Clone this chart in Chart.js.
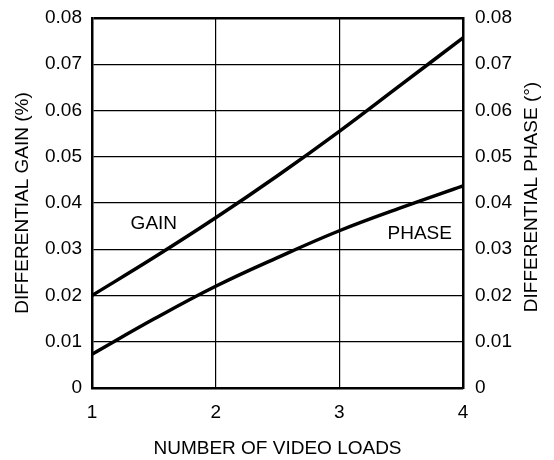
<!DOCTYPE html>
<html>
<head>
<meta charset="utf-8">
<script src="https://cdn.jsdelivr.net/npm/chart.js@4/dist/chart.umd.min.js"></script>
<style>
  html, body { margin: 0; padding: 0; background: #fff; }
  #wrap { width: 554px; height: 460px; }
</style>
</head>
<body>
<div id="wrap"><canvas id="chart"></canvas></div>
<script>
// Differential gain / phase vs number of video loads

const loads = [1, 1.5, 2, 2.5, 3, 3.5, 4];
const gainValues = [0.0200, 0.0282, 0.0368, 0.0459, 0.0555, 0.0656, 0.0757];
const phaseValues = [0.0073, 0.0149, 0.0220, 0.0282, 0.0340, 0.0390, 0.0437];

const xTicks = [1, 2, 3, 4];
const yTicks = [0, 0.01, 0.02, 0.03, 0.04, 0.05, 0.06, 0.07, 0.08];

// curve labels, placed in data coordinates
const curveLabels = [
  { text: 'GAIN', x: 1.5, y: 0.0356 },
  { text: 'PHASE', x: 3.65, y: 0.0333 }
];

const FONT = "'Liberation Sans', Arial, Helvetica, sans-serif";
const SIZE = 19;

function toPoints(xs, ys) {
  return xs.map((x, i) => ({ x: x, y: ys[i] }));
}

function yLabel(value) {
  return value === 0 ? '0' : value.toFixed(2);
}

// fixed width for a y axis, and no extra room for the end labels
function fitY(width) {
  return axis => {
    axis.width = width;
    axis.paddingTop = 0;
    axis.paddingBottom = 0;
  };
}

// draws the curve labels and the right-hand axis title (reads bottom to top)
const textPlugin = {
  id: 'textPlugin',
  afterDraw(chart) {
    const ctx = chart.ctx;
    const xs = chart.scales.x;
    const ys = chart.scales.y;
    ctx.save();
    ctx.fillStyle = '#000';
    ctx.font = SIZE + 'px ' + FONT;
    ctx.textAlign = 'center';
    ctx.textBaseline = 'middle';
    curveLabels.forEach(l => {
      ctx.fillText(l.text, xs.getPixelForValue(l.x), ys.getPixelForValue(l.y));
    });

    const area = chart.chartArea;
    ctx.translate(532, (area.top + area.bottom) / 2 - 6);
    ctx.rotate(-Math.PI / 2);
    ctx.fillText('DIFFERENTIAL PHASE (°)', 0, 0);
    ctx.restore();
  }
};

const ctx = document.getElementById('chart').getContext('2d');
const chart = new Chart(ctx, {
  type: 'line',
  data: {
    datasets: [
      {
        label: 'GAIN',
        data: toPoints(loads, gainValues),
        borderColor: '#000',
        borderWidth: 3.5,
        pointRadius: 0,
        tension: 0.4,
        fill: false
      },
      {
        label: 'PHASE',
        data: toPoints(loads, phaseValues),
        borderColor: '#000',
        borderWidth: 3.5,
        pointRadius: 0,
        tension: 0.4,
        fill: false
      }
    ]
  },
  options: {
    responsive: true,
    maintainAspectRatio: false,
    animation: false,
    layout: { padding: { top: 18, left: 0, right: 0, bottom: 0 } },
    plugins: {
      legend: { display: false },
      tooltip: { enabled: false }
    },
    scales: {
      x: {
        type: 'linear',
        min: 1,
        max: 4,
        afterBuildTicks: axis => { axis.ticks = xTicks.map(v => ({ value: v })); },
        afterFit: axis => { axis.height = 72; },
        grid: { color: '#000', lineWidth: 1.2, drawTicks: false },
        border: { color: '#000', width: 2.5 },
        ticks: {
          color: '#000',
          padding: 13,
          maxRotation: 0,
          font: { family: FONT, size: SIZE }
        },
        title: {
          display: true,
          text: 'NUMBER OF VIDEO LOADS',
          color: '#000',
          padding: { top: 0, bottom: 0 },
          font: { family: FONT, size: SIZE }
        }
      },
      y: {
        position: 'left',
        min: 0,
        max: 0.08,
        afterBuildTicks: axis => { axis.ticks = yTicks.map(v => ({ value: v })); },
        afterFit: fitY(92),
        grid: {
          color: '#000',
          lineWidth: c => (c.tick && c.tick.value === 0.08 ? 2.5 : 1.2),
          drawTicks: false
        },
        border: { color: '#000', width: 2.5 },
        ticks: {
          color: '#000',
          padding: 10,
          font: { family: FONT, size: SIZE },
          callback: value => yLabel(value)
        },
        title: {
          display: true,
          text: 'DIFFERENTIAL GAIN (%)',
          color: '#000',
          padding: { top: 11, bottom: 0 },
          font: { family: FONT, size: SIZE }
        }
      },
      y2: {
        position: 'right',
        min: 0,
        max: 0.08,
        afterBuildTicks: axis => { axis.ticks = yTicks.map(v => ({ value: v })); },
        afterFit: fitY(91),
        grid: { display: false, drawTicks: false },
        border: { color: '#000', width: 2.5 },
        ticks: {
          color: '#000',
          padding: 12,
          font: { family: FONT, size: SIZE },
          callback: value => yLabel(value)
        }
      }
    }
  },
  plugins: [textPlugin]
});
</script>
</body>
</html>
